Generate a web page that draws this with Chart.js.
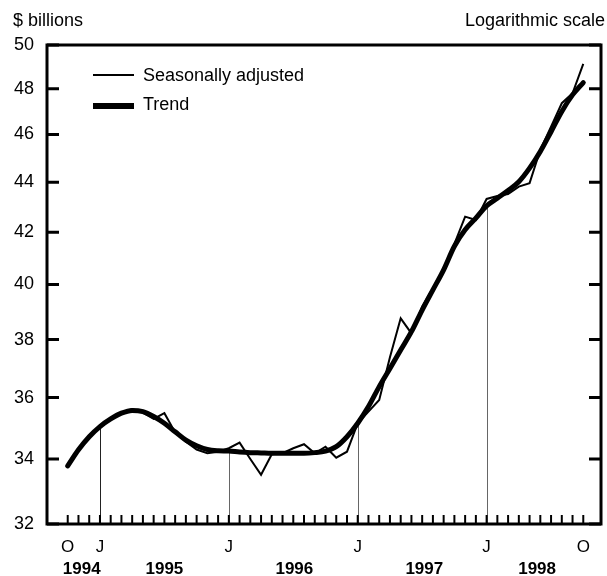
<!DOCTYPE html>
<html>
<head>
<meta charset="utf-8">
<script src="https://cdn.jsdelivr.net/npm/chart.js@4"></script>
<style>
  html, body { margin: 0; padding: 0; background: #fff; }
  #chart { display: block; }
</style>
</head>
<body>
<canvas id="chart" width="607" height="576"></canvas>
<script>
// Monthly, Oct 1994 .. Oct 1998 ($ billions, log scale)
const months = [
    'Oct 94', 'Nov 94', 'Dec 94',
    'Jan 95', 'Feb 95', 'Mar 95', 'Apr 95', 'May 95', 'Jun 95', 'Jul 95', 'Aug 95', 'Sep 95', 'Oct 95', 'Nov 95', 'Dec 95',
    'Jan 96', 'Feb 96', 'Mar 96', 'Apr 96', 'May 96', 'Jun 96', 'Jul 96', 'Aug 96', 'Sep 96', 'Oct 96', 'Nov 96', 'Dec 96',
    'Jan 97', 'Feb 97', 'Mar 97', 'Apr 97', 'May 97', 'Jun 97', 'Jul 97', 'Aug 97', 'Sep 97', 'Oct 97', 'Nov 97', 'Dec 97',
    'Jan 98', 'Feb 98', 'Mar 98', 'Apr 98', 'May 98', 'Jun 98', 'Jul 98', 'Aug 98', 'Sep 98', 'Oct 98'
];

const seasonallyAdjusted = [
    33.78, 34.25, 34.75,
    35.05, 35.30, 35.50, 35.62, 35.50, 35.29, 35.48, 34.85, 34.55, 34.30, 34.18, 34.23,
    34.34, 34.52, 34.00, 33.50, 34.15, 34.18, 34.34, 34.47, 34.18, 34.39, 34.04, 34.23,
    35.15, 35.53, 35.92, 37.38, 38.76, 38.22, 39.18, 39.86, 40.55, 41.54, 42.61, 42.48,
    43.32, 43.44, 43.52, 43.82, 43.96, 45.35, 46.34, 47.36, 47.80, 49.13
];

const trend = [
    33.78, 34.29, 34.71,
    35.04, 35.29, 35.48, 35.57, 35.53, 35.37, 35.15, 34.87, 34.60, 34.42, 34.30, 34.26,
    34.25, 34.22, 34.20, 34.19, 34.18, 34.18, 34.18, 34.18, 34.20, 34.25, 34.39, 34.71,
    35.15, 35.70, 36.37, 36.99, 37.63, 38.28, 39.06, 39.80, 40.55, 41.45, 42.09, 42.55,
    43.04, 43.35, 43.66, 44.02, 44.58, 45.28, 46.12, 47.00, 47.73, 48.28
];

const yTicks = [32, 34, 36, 38, 40, 42, 44, 46, 48, 50];

// month index -> letter shown under the axis
const monthTicks = [0, 3, 15, 27, 39, 48];
const monthTickLabels = ['O', 'J', 'J', 'J', 'J', 'O'];

// year labels, placed by month index
const yearTicks = [1.3, 9, 21.1, 33.2, 43.7];
const yearLabels = ['1994', '1995', '1996', '1997', '1998'];

// January markers (drop lines)
const janIndexes = [3, 15, 27, 39];

const FONT = "'Liberation Sans', Arial, sans-serif";

const toPoints = arr => arr.map((v, i) => ({ x: i, y: v }));

const framePlugin = {
    id: 'frame',
    beforeDatasetsDraw(chart) {
        const { ctx, chartArea } = chart;
        const x = chart.scales.x, y = chart.scales.y;
        ctx.save();
        ctx.lineWidth = 1;
        janIndexes.forEach((i, k) => {
            const px = Math.round(x.getPixelForValue(i)) + 0.5;
            ctx.strokeStyle = k === 0 ? '#222' : '#666';
            ctx.beginPath();
            ctx.moveTo(px, chartArea.bottom);
            ctx.lineTo(px, y.getPixelForValue(trend[i]));
            ctx.stroke();
        });
        ctx.restore();
    },
    afterDraw(chart) {
        const { ctx, chartArea } = chart;
        const x = chart.scales.x, y = chart.scales.y;
        ctx.save();
        ctx.strokeStyle = '#000';

        // frame
        ctx.lineWidth = 3;
        ctx.strokeRect(chartArea.left, chartArea.top,
            chartArea.right - chartArea.left, chartArea.bottom - chartArea.top);

        // inward ticks on both value axes
        yTicks.forEach(v => {
            const py = y.getPixelForValue(v);
            ctx.beginPath();
            ctx.moveTo(chartArea.left, py);
            ctx.lineTo(chartArea.left + 12, py);
            ctx.moveTo(chartArea.right, py);
            ctx.lineTo(chartArea.right - 12, py);
            ctx.stroke();
        });

        // monthly ticks along the bottom
        ctx.lineWidth = 2;
        months.forEach((m, i) => {
            const px = x.getPixelForValue(i);
            ctx.beginPath();
            ctx.moveTo(px, chartArea.bottom);
            ctx.lineTo(px, chartArea.bottom - 9);
            ctx.stroke();
        });

        // headings
        ctx.fillStyle = '#000';
        ctx.font = '18px ' + FONT;
        ctx.textBaseline = 'middle';
        ctx.textAlign = 'left';
        ctx.fillText('$ billions', 13, 21);
        ctx.textAlign = 'right';
        ctx.fillText('Logarithmic scale', 605, 21);

        // legend
        ctx.textAlign = 'left';
        ctx.lineWidth = 2;
        ctx.beginPath();
        ctx.moveTo(93, 75);
        ctx.lineTo(134, 75);
        ctx.stroke();
        ctx.fillText('Seasonally adjusted', 143, 76);
        ctx.lineWidth = 6;
        ctx.beginPath();
        ctx.moveTo(93, 106);
        ctx.lineTo(134, 106);
        ctx.stroke();
        ctx.fillText('Trend', 143, 105);
        ctx.restore();
    }
};

new Chart(document.getElementById('chart'), {
    type: 'line',
    data: {
        datasets: [
            {
                label: 'Seasonally adjusted',
                data: toPoints(seasonallyAdjusted),
                borderColor: '#000',
                borderWidth: 2,
                pointRadius: 0,
                tension: 0
            },
            {
                label: 'Trend',
                data: toPoints(trend),
                borderColor: '#000',
                borderWidth: 5,
                borderCapStyle: 'round',
                pointRadius: 0,
                cubicInterpolationMode: 'monotone'
            }
        ]
    },
    options: {
        responsive: false,
        animation: false,
        devicePixelRatio: 1,
        layout: { padding: { top: 45, right: 6, left: 0, bottom: 0 } },
        plugins: {
            legend: { display: false },
            tooltip: { enabled: false }
        },
        scales: {
            x: {
                type: 'linear',
                position: 'bottom',
                weight: 0,
                min: -1.93,
                max: 49.65,
                grid: { display: false, drawTicks: false },
                border: { display: false },
                afterBuildTicks: axis => { axis.ticks = monthTicks.map(v => ({ value: v })); },
                afterFit: axis => { axis.height = 32; },
                ticks: {
                    autoSkip: false,
                    maxRotation: 0,
                    padding: 13,
                    color: '#000',
                    font: { family: FONT, size: 17 },
                    callback: v => monthTickLabels[monthTicks.indexOf(v)]
                }
            },
            years: {
                type: 'linear',
                position: 'bottom',
                weight: 1,
                min: -1.93,
                max: 49.65,
                grid: { display: false, drawTicks: false },
                border: { display: false },
                afterBuildTicks: axis => { axis.ticks = yearTicks.map(v => ({ value: v })); },
                afterFit: axis => { axis.height = 20; },
                ticks: {
                    autoSkip: false,
                    maxRotation: 0,
                    padding: 3,
                    color: '#000',
                    font: { family: FONT, size: 17, weight: 'bold' },
                    callback: v => yearLabels[yearTicks.indexOf(v)]
                }
            },
            y: {
                type: 'logarithmic',
                min: 32,
                max: 50,
                grid: { display: false, drawTicks: false },
                border: { display: false },
                afterBuildTicks: axis => { axis.ticks = yTicks.map(v => ({ value: v })); },
                afterFit: axis => { axis.width = 47; },
                ticks: {
                    padding: 13,
                    color: '#000',
                    font: { family: FONT, size: 18 },
                    callback: v => String(v)
                }
            }
        }
    },
    plugins: [framePlugin]
});
</script>
</body>
</html>
